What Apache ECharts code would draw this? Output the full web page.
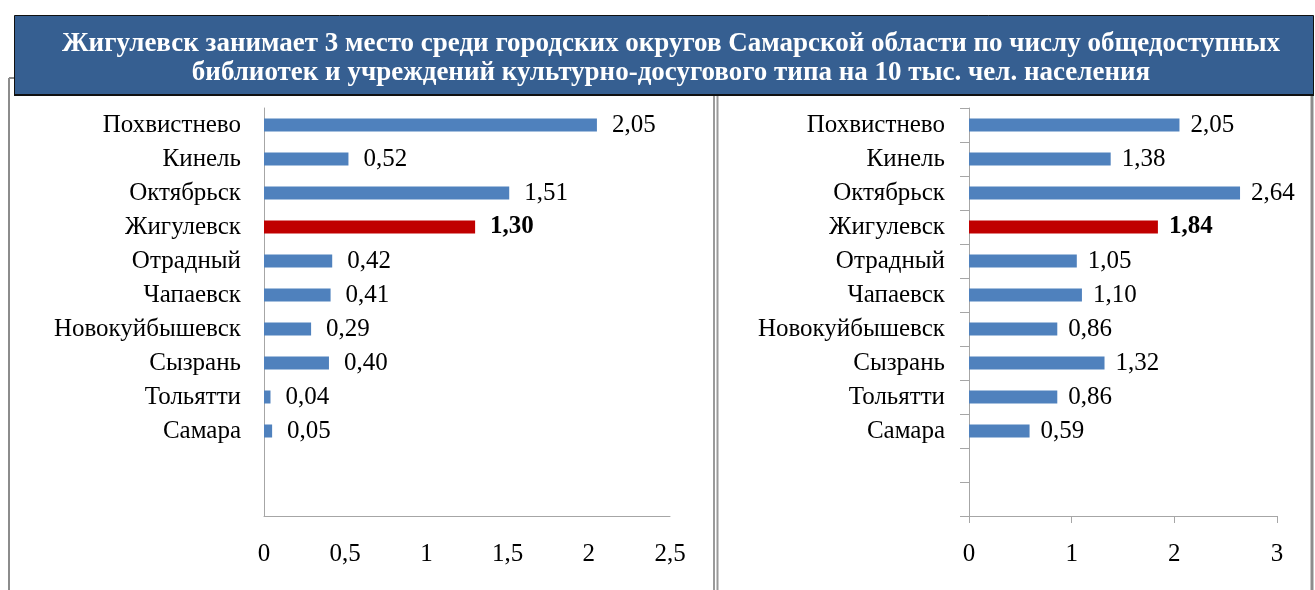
<!DOCTYPE html>
<html>
<head>
<meta charset="utf-8">
<script src="https://cdn.jsdelivr.net/npm/echarts@6/dist/echarts.min.js"></script>
<style>
  html, body { margin: 0; padding: 0; background: #fff; }
  #chart { width: 1315px; height: 590px; }
</style>
</head>
<body>
<div id="chart"></div>
<script>
  const cities = ['Похвистнево', 'Кинель', 'Октябрьск', 'Жигулевск', 'Отрадный', 'Чапаевск', 'Новокуйбышевск', 'Сызрань', 'Тольятти', 'Самара']
  // две пустые строки внизу оси, как в оригинале
  const emptySlots = ['', ' ']
  const libLeft = [2.05, 0.52, 1.51, 1.30, 0.42, 0.41, 0.29, 0.40, 0.04, 0.05]
  const libRight = [2.05, 1.38, 2.64, 1.84, 1.05, 1.10, 0.86, 1.32, 0.86, 0.59]
  const highlight = 'Жигулевск'
  const titleLines = [
    'Жигулевск занимает 3 место среди городских округов Самарской области по числу общедоступных',
    'библиотек и учреждений культурно-досугового типа на 10 тыс. чел. населения'
  ]

  const serif = "'Liberation Serif', 'Times New Roman', serif"
  const blue = '#4F81BD'
  const red = '#C00000'
  const axisGray = '#A6A6A6'
  const fs = 25

  const comma = (v, d) => (d === undefined ? String(v) : v.toFixed(d)).replace('.', ',')

  const makeData = (values) =>
    values.map((v, i) => {
      const isHl = cities[i] === highlight
      return {
        value: v,
        itemStyle: { color: isHl ? red : blue },
        label: { fontWeight: isHl ? 'bold' : 'normal' }
      }
    })

  const categories = cities.concat(emptySlots)

  const chart = echarts.init(document.getElementById('chart'))
  chart.setOption({
    animation: false,
    graphic: [
      // рамки панелей
      { type: 'line', shape: { x1: 9, y1: 78, x2: 9, y2: 600 }, style: { stroke: '#8C8C8C', lineWidth: 2 } },
      { type: 'line', shape: { x1: 9, y1: 78, x2: 20, y2: 78 }, style: { stroke: '#8C8C8C', lineWidth: 2 } },
      { type: 'line', shape: { x1: 714, y1: 90, x2: 714, y2: 600 }, style: { stroke: '#9A9A9A', lineWidth: 2 } },
      { type: 'line', shape: { x1: 717.5, y1: 90, x2: 717.5, y2: 600 }, style: { stroke: '#9A9A9A', lineWidth: 2 } },
      { type: 'line', shape: { x1: 1312, y1: 90, x2: 1312, y2: 600 }, style: { stroke: '#8C8C8C', lineWidth: 3 } },
      // заголовок
      {
        type: 'rect', z: 10,
        shape: { x: 14.5, y: 15.5, width: 1299, height: 80 },
        style: { fill: '#365F91', stroke: '#111', lineWidth: 1 }
      },
      { type: 'line', z: 11, shape: { x1: 14, y1: 95, x2: 1314, y2: 95 }, style: { stroke: '#111', lineWidth: 2 } },
      {
        type: 'text', z: 12, x: 671, y: 44,
        style: { text: titleLines[0], fill: '#fff', font: 'bold 27px ' + serif, align: 'center', verticalAlign: 'middle' }
      },
      {
        type: 'text', z: 12, x: 671, y: 73,
        style: { text: titleLines[1], fill: '#fff', font: 'bold 27px ' + serif, align: 'center', verticalAlign: 'middle' }
      }
    ],
    grid: [
      { left: 264, top: 108, width: 406, height: 408 },
      { left: 969, top: 108, width: 308, height: 408 }
    ],
    xAxis: [
      {
        gridIndex: 0, type: 'value', min: 0, max: 2.5, interval: 0.5,
        splitLine: { show: false },
        axisLine: { show: true, lineStyle: { color: axisGray } },
        axisTick: { show: false },
        axisLabel: { color: '#000', fontFamily: serif, fontSize: fs, margin: 26, formatter: (v) => comma(v) }
      },
      {
        gridIndex: 1, type: 'value', min: 0, max: 3, interval: 1,
        splitLine: { show: false },
        axisLine: { show: true, lineStyle: { color: axisGray } },
        axisTick: { show: true, length: 7, lineStyle: { color: axisGray } },
        axisLabel: { color: '#000', fontFamily: serif, fontSize: fs, margin: 26, formatter: (v) => comma(v) }
      }
    ],
    yAxis: [
      {
        gridIndex: 0, type: 'category', inverse: true, data: categories,
        axisLine: { show: true, lineStyle: { color: axisGray } },
        axisTick: { show: false },
        axisLabel: { color: '#000', fontFamily: serif, fontSize: fs, margin: 23 }
      },
      {
        gridIndex: 1, type: 'category', inverse: true, data: categories,
        axisLine: { show: true, lineStyle: { color: axisGray } },
        axisTick: { show: true, length: 9, lineStyle: { color: axisGray } },
        axisLabel: { color: '#000', fontFamily: serif, fontSize: fs, margin: 24 }
      }
    ],
    series: [
      {
        type: 'bar', xAxisIndex: 0, yAxisIndex: 0, barWidth: 13,
        data: makeData(libLeft),
        label: {
          show: true, position: 'right', distance: 15, color: '#000',
          fontFamily: serif, fontSize: fs, formatter: (p) => comma(p.value, 2)
        }
      },
      {
        type: 'bar', xAxisIndex: 1, yAxisIndex: 1, barWidth: 13,
        data: makeData(libRight),
        label: {
          show: true, position: 'right', distance: 11, color: '#000',
          fontFamily: serif, fontSize: fs, formatter: (p) => comma(p.value, 2)
        }
      }
    ]
  })
</script>
</body>
</html>
